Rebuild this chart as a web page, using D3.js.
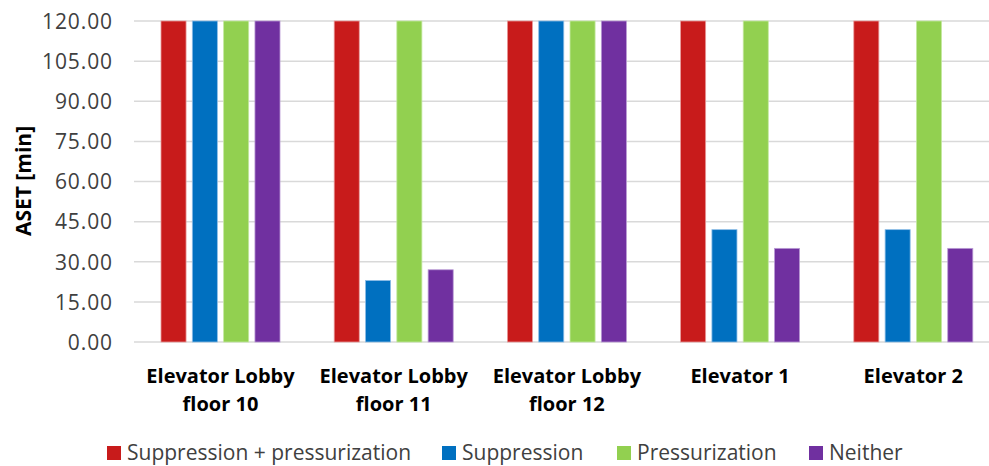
<!DOCTYPE html>
<html><head><meta charset="utf-8">
<script src="https://cdn.jsdelivr.net/npm/d3@7"></script>
<style>body{margin:0;background:#fff}svg{display:block;font-family:"Open Sans",sans-serif}</style>
</head><body><svg id="c" width="989" height="466"></svg>
<script>
const categories = [["Elevator Lobby","floor 10"],["Elevator Lobby","floor 11"],["Elevator Lobby","floor 12"],["Elevator 1"],["Elevator 2"]];
const seriesNames = ["Suppression + pressurization","Suppression","Pressurization","Neither"];
const seriesColors = ["#C81B1B","#0070C0","#92D050","#7030A0"];
const seriesStroke = ["#E89A9A","#8DBDE6","#C4E8A0","#B99AD4"];
const suppPress = [120,120,120,120,120];
const supp = [120,23,120,42,42];
const press = [120,120,120,120,120];
const neither = [120,27,120,35,35];
const yTicks = [0,15,30,45,60,75,90,105,120];

const values = [suppPress, supp, press, neither];
const svg = d3.select("#c");
const x0 = d3.scaleBand().domain(d3.range(categories.length)).range([134,1000]).paddingInner(0).paddingOuter(0);
const x1 = d3.scaleBand().domain(d3.range(4)).range([27,146]).paddingInner(0.2);
const y = d3.scaleLinear().domain([0,120]).range([342,21]);

svg.append("g").selectAll("line").data(yTicks).join("line")
  .attr("x1",134).attr("x2",1000).attr("y1",d=>y(d)).attr("y2",d=>y(d))
  .attr("stroke","#D9D9D9").attr("stroke-width",1.5);

const yAxis = d3.axisLeft(y).tickValues(yTicks).tickFormat(d=>d3.format(".2f")(d)).tickSize(0).tickPadding(0);
const ya = svg.append("g").attr("transform","translate(113,0)").call(yAxis);
ya.select(".domain").remove();
ya.selectAll("text").attr("font-size",21).attr("letter-spacing","0.9px").attr("fill","#404040").attr("font-family","'Open Sans',sans-serif").attr("dy","0.35em");

const g = svg.append("g");
categories.forEach((c,i)=>{
  values.forEach((s,j)=>{
    g.append("rect")
      .attr("x", x0(i)+x1(j)).attr("width", x1.bandwidth())
      .attr("y", y(s[i])).attr("height", y(0)-y(s[i]))
      .attr("fill", seriesColors[j]).attr("stroke", seriesStroke[j]).attr("stroke-width",0.8);
  });
});

const xa = svg.append("g");
categories.forEach((c,i)=>{
  const t = xa.append("text").attr("text-anchor","middle").attr("font-weight","bold").attr("font-size",20).attr("fill","#000");
  c.forEach((line,k)=>{
    t.append("tspan").attr("x", x0(i)+x1.range()[0]+(x1.range()[1]-x1.range()[0])/2).attr("y", 383+k*28).text(line);
  });
});

svg.append("text").attr("transform","translate(31,181) rotate(-90)").attr("text-anchor","middle")
  .attr("font-weight","bold").attr("font-size",21).attr("fill","#000").text("ASET [min]");

const legX = [107,442,617,809];
const lg = svg.append("g");
seriesNames.forEach((n,j)=>{
  lg.append("rect").attr("x",legX[j]).attr("y",446).attr("width",14).attr("height",14).attr("fill",seriesColors[j]);
  lg.append("text").attr("x",legX[j]+20).attr("y",460).attr("font-size",21).attr("fill","#404040").text(n);
});
</script></body></html>
